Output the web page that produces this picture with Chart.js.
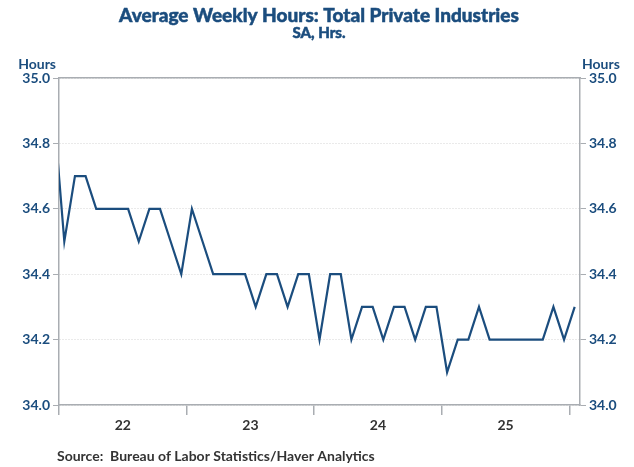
<!DOCTYPE html>
<html>
<head>
<meta charset="utf-8">
<script src="https://cdn.jsdelivr.net/npm/chart.js@4"></script>
<style>
  html, body { margin: 0; padding: 0; background: #fff; }
  #wrap { width: 634px; height: 467px; position: relative; }
</style>
</head>
<body>
<div id="wrap"><canvas id="myChart" width="634" height="467"></canvas></div>
<script>
// monthly values, Dec 2021 .. Jan 2026 (Dec 2021 sits just left of the plot)
const firstMonth = -1;   // months relative to Jan 2022
const hours = [
    34.9,
    34.5, 34.7, 34.7, 34.6, 34.6, 34.6, 34.6, 34.5, 34.6, 34.6, 34.5, 34.4,
    34.6, 34.5, 34.4, 34.4, 34.4, 34.4, 34.3, 34.4, 34.4, 34.3, 34.4, 34.4,
    34.2, 34.4, 34.4, 34.2, 34.3, 34.3, 34.2, 34.3, 34.3, 34.2, 34.3, 34.3,
    34.1, 34.2, 34.2, 34.3, 34.2, 34.2, 34.2, 34.2, 34.2, 34.2, 34.3, 34.2,
    34.3
];
const yearLabels = ['22', '23', '24', '25'];
const yearStarts = [0, 12, 24, 36, 48];
const yTicks = [34.0, 34.2, 34.4, 34.6, 34.8, 35.0];

const BLUE = '#1b4d7e';
const AXIS = '#a9adb2';
const FONT = 'Lato, "Open Sans", sans-serif';

var points = hours.map(function(v, i){
    return { x: firstMonth + i + 0.5, y: v };
});

var labelPos = {};
yearLabels.forEach(function(l, i){ labelPos[yearStarts[i] + 6] = l; });

const textPlugin = {
    id: 'texts',
    afterDraw: function(chart) {
        const c = chart.ctx;
        c.save();
        c.fillStyle = BLUE;
        c.strokeStyle = BLUE;
        c.lineWidth = 0.5;
        c.textAlign = 'center';
        c.textBaseline = 'alphabetic';
        c.font = '900 19px ' + FONT;
        c.fillText('Average Weekly Hours: Total Private Industries', 319, 22);
        c.strokeText('Average Weekly Hours: Total Private Industries', 319, 22);
        c.font = '900 15px ' + FONT;
        c.fillText('SA, Hrs.', 319, 38);
        c.strokeText('SA, Hrs.', 319, 38);
        c.font = 'bold 14px ' + FONT;
        c.textAlign = 'right';
        c.fillText('Hours', 56, 69);
        c.textAlign = 'left';
        c.fillText('Hours', 582, 69);
        c.fillStyle = '#333';
        c.font = 'bold 14px ' + FONT;
        c.fillText('Source:  Bureau of Labor Statistics/Haver Analytics', 57, 461);
        c.restore();
    }
};

const ctx = document.getElementById('myChart');
var myChart = new Chart(ctx, {
    type: 'line',
    data: {
        datasets: [{
            data: points,
            borderColor: BLUE,
            borderWidth: 2.2,
            pointRadius: 0,
            tension: 0,
            yAxisID: 'y'
        }]
    },
    options: {
        responsive: false,
        animation: false,
        layout: { padding: { top: 70, left: 0, right: 0, bottom: 0 } },
        plugins: {
            legend: { display: false },
            tooltip: { enabled: false }
        },
        scales: {
            x: {
                type: 'linear',
                position: 'bottom',
                min: 0,
                max: 49,
                afterBuildTicks: function(scale) {
                    scale.ticks = [0, 6, 12, 18, 24, 30, 36, 42, 48].map(function(v){ return { value: v }; });
                },
                afterFit: function(scale) { scale.height = 62; },
                ticks: {
                    autoSkip: false,
                    maxRotation: 0,
                    color: '#333',
                    padding: 2,
                    font: { family: FONT, size: 14, weight: 'bold' },
                    callback: function(v) { return labelPos[v] || ''; }
                },
                grid: {
                    drawOnChartArea: false,
                    tickLength: 10,
                    tickColor: function(c) {
                        return (c.tick && labelPos[c.tick.value]) ? 'rgba(0,0,0,0)' : AXIS;
                    },
                    lineWidth: 1.5
                },
                border: { color: AXIS, width: 1.5 }
            },
            xTop: {
                type: 'linear',
                position: 'top',
                min: 0,
                max: 49,
                ticks: { display: false },
                grid: { display: false },
                border: { color: AXIS, width: 1.5 }
            },
            y: {
                position: 'left',
                min: 34.0,
                max: 35.0,
                afterBuildTicks: function(scale) {
                    scale.ticks = yTicks.map(function(v){ return { value: v }; });
                },
                afterFit: function(scale) { scale.width = 59; },
                ticks: {
                    color: BLUE,
                    padding: 3,
                    font: { family: FONT, size: 14, weight: 'bold' },
                    callback: function(v) { return v.toFixed(1); }
                },
                grid: {
                    color: '#d4d4d4',
                    tickColor: AXIS,
                    tickLength: 6,
                    lineWidth: 1
                },
                border: { color: AXIS, width: 1.5, dash: [1, 2] }
            },
            y2: {
                position: 'right',
                min: 34.0,
                max: 35.0,
                afterBuildTicks: function(scale) {
                    scale.ticks = yTicks.map(function(v){ return { value: v }; });
                },
                afterFit: function(scale) { scale.width = 54; },
                ticks: {
                    color: BLUE,
                    padding: 3,
                    font: { family: FONT, size: 14, weight: 'bold' },
                    callback: function(v) { return v.toFixed(1); }
                },
                grid: {
                    drawOnChartArea: false,
                    tickColor: AXIS,
                    tickLength: 6
                },
                border: { color: AXIS, width: 1.5 }
            }
        }
    },
    plugins: [textPlugin]
});
</script>
</body>
</html>
